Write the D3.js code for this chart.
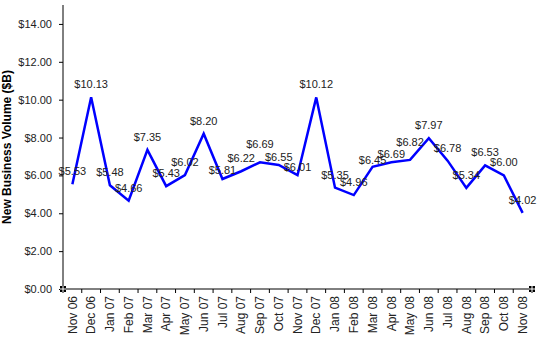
<!DOCTYPE html>
<html><head><meta charset="utf-8">
<script src="https://cdn.jsdelivr.net/npm/d3@7"></script>
<style>body{margin:0;background:#fff}svg{display:block}text{font-family:"Liberation Sans",Arial,sans-serif}</style>
</head><body>
<svg id="c" width="538" height="348"></svg>
<script>
const months = ["Nov 06","Dec 06","Jan 07","Feb 07","Mar 07","Apr 07","May 07","Jun 07","Jul 07","Aug 07","Sep 07","Oct 07","Nov 07","Dec 07","Jan 08","Feb 08","Mar 08","Apr 08","May 08","Jun 08","Jul 08","Aug 08","Sep 08","Oct 08","Nov 08"];
const volume = [5.53,10.13,5.48,4.66,7.35,5.43,6.02,8.20,5.81,6.22,6.69,6.55,6.01,10.12,5.35,4.96,6.45,6.69,6.82,7.97,6.78,5.34,6.53,6.00,4.02];
const yTicks = [0,2,4,6,8,10,12,14];
const yTitle = "New Business Volume ($B)";
// hand-placed label nudges (px, positive = down), as in the original
const labelNudge = [0,0,0,0,0,0,0,0,4,0,-5,5,5,0,0,0,6,5,-5,0,0,0,0,0,0];

const svg = d3.select("#c");
const L = 63, R = 532, T = 5, B = 289;
const x = d3.scaleBand().domain(months).range([L, R]);
const y = d3.scaleLinear().domain([0, 15]).range([B, T]);

// y axis
const ya = svg.append("g").attr("transform", `translate(${L},0)`)
  .call(d3.axisLeft(y).tickValues(yTicks).tickFormat(d => "$" + d.toFixed(2)).tickSize(4).tickPadding(7));
ya.select(".domain").attr("d", `M0,${T}V${B}`).attr("stroke", "#000");
ya.selectAll("text").attr("font-size", 11).attr("fill", "#222").attr("font-family", "Liberation Sans, Arial, sans-serif");

// x axis
const xa = svg.append("g").attr("transform", `translate(0,${B})`)
  .call(d3.axisBottom(x).tickSize(0).tickPadding(7));
xa.select(".domain").attr("d", `M${L},0H${R}`).attr("stroke", "#000");
xa.selectAll("text").attr("font-size", 12).attr("fill", "#222").attr("font-family", "Liberation Sans, Arial, sans-serif")
  .attr("transform", "rotate(-90)").attr("text-anchor", "end").attr("dy", "0.35em").attr("x", -7).attr("y", 0);
xa.selectAll(".tick").attr("transform", d => `translate(${x(d) + x.bandwidth()/2},0)`);
// boundary tick marks
svg.append("g").selectAll("line").data(d3.range(months.length + 1)).join("line")
  .attr("x1", i => L + i * x.step()).attr("x2", i => L + i * x.step())
  .attr("y1", B).attr("y2", B + 4).attr("stroke", "#000");

// line
const line = d3.line().x((d, i) => x(months[i]) + x.bandwidth()/2).y(d => y(d));
svg.append("path").datum(volume).attr("d", line).attr("fill", "none")
  .attr("stroke", "#0000ff").attr("stroke-width", 2.5).attr("stroke-linejoin", "miter");

// labels
svg.append("g").selectAll("text").data(volume).join("text")
  .attr("x", (d, i) => x(months[i]) + x.bandwidth()/2)
  .attr("y", (d, i) => y(d) - 9 + labelNudge[i])
  .attr("text-anchor", "middle").attr("font-size", 11).attr("fill", "#222")
  .text(d => "$" + d.toFixed(2));

// y title
svg.append("text").attr("transform", `translate(11,${(T + B) / 2}) rotate(-90)`)
  .attr("text-anchor", "middle").attr("font-size", 12).attr("font-weight", "bold").attr("fill", "#000")
  .text(yTitle);

// selection handles
[[L, B], [R, B]].forEach(([a, b]) => {
  svg.append("rect").attr("x", a - 3).attr("y", b - 3).attr("width", 6).attr("height", 6).attr("fill", "#000");
  svg.append("line").attr("x1", a - 3).attr("x2", a + 3).attr("y1", b).attr("y2", b).attr("stroke", "#fff").attr("stroke-width", 1);
  svg.append("line").attr("x1", a).attr("x2", a).attr("y1", b - 3).attr("y2", b + 3).attr("stroke", "#fff").attr("stroke-width", 1);
});
</script>
</body></html>
